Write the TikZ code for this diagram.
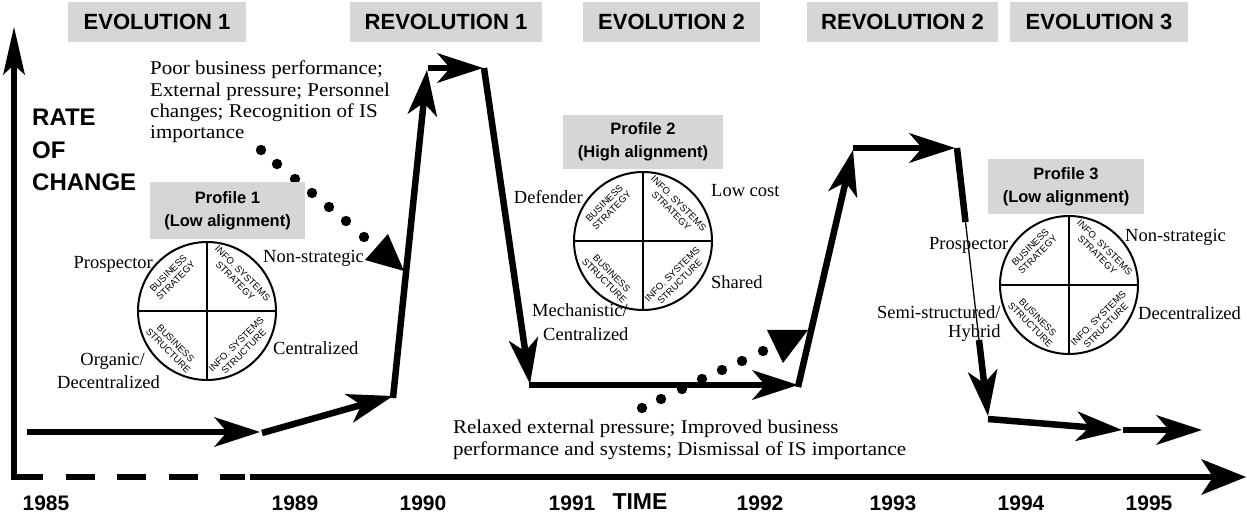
\documentclass[tikz,border=0pt]{standalone}
\usepackage{fontspec}
\setmainfont{Liberation Serif}
\setsansfont{Liberation Sans}
\newfontfamily\notefont[FakeStretch=1.075]{Liberation Serif}
\usetikzlibrary{arrows.meta}
\definecolor{boxgray}{RGB}{214,214,214}
\tikzset{
  hdr/.style={fill=boxgray, minimum height=40pt, inner sep=0pt, font=\sffamily\bfseries\fontsize{22}{24}\selectfont},
  prof/.style={fill=boxgray, inner sep=0pt, align=center, font=\sffamily\bfseries\fontsize{16.5}{23}\selectfont},
  lbl/.style={font=\fontsize{18.5}{21}\selectfont, inner sep=0pt},
  note/.style={font=\notefont\fontsize{19.5}{21.3}\selectfont, align=left, inner sep=0pt},
  yr/.style={font=\sffamily\bfseries\fontsize{21}{22}\selectfont, inner sep=0pt},
  quad/.style={font=\sffamily\fontsize{9.5}{10.5}\selectfont, align=center, inner sep=0pt},
  rate/.style={font=\sffamily\bfseries\fontsize{24}{26}\selectfont, inner sep=0pt, anchor=west},
  flow/.style={line width=6.5pt, -{Stealth[length=46pt,width=30pt,inset=13pt,line width=0pt]}},
  flowplain/.style={line width=6.5pt},
  axis/.style={line width=6pt},
  disc/.style={circle, draw, line width=2pt, minimum size=138pt, inner sep=0pt},
}
\newcommand{\profdisc}[3]{%
  \node[disc] (#1) at (#2,#3) {};
  \draw[line width=2pt] (#1.north) -- (#1.south);
  \draw[line width=2pt] (#1.west) -- (#1.east);
  \node[quad, rotate=45] (#1bs) at ([shift={(-35,-34)}]#1.center) {BUSINESS\\STRATEGY};
  \node[quad, rotate=-45] (#1is) at ([shift={(32,-34)}]#1.center) {INFO. SYSTEMS\\STRATEGY};
  \node[quad, rotate=-45] (#1bt) at ([shift={(-35,36)}]#1.center) {BUSINESS\\STRUCTURE};
  \node[quad, rotate=45] (#1it) at ([shift={(33,37)}]#1.center) {INFO. SYSTEMS\\STRUCTURE};
}
\begin{document}
\begin{tikzpicture}[x=1pt,y=-1pt]
\useasboundingbox (0,0) rectangle (1247,518);
\fill[white] (0,0) rectangle (1247,518);

% header boxes
\node[hdr, minimum width=178pt] (h1) at (157,22) {EVOLUTION 1};
\node[hdr, minimum width=192pt] (h2) at (446,22) {REVOLUTION 1};
\node[hdr, minimum width=177pt] (h3) at (671.5,22) {EVOLUTION 2};
\node[hdr, minimum width=191pt] (h4) at (902.5,22) {REVOLUTION 2};
\node[hdr, minimum width=178pt] (h5) at (1099,22) {EVOLUTION 3};

% axes
\coordinate (o) at (14,477);
\coordinate (ytop) at (14,27);
\coordinate (dashend) at (245,477);
\coordinate (solidstart) at (250,477);
\coordinate (xend) at (1246,477);
\draw[axis, -{Stealth[length=48pt,width=22pt,inset=10pt,line width=0pt]}] ([yshift=-3pt]o) -- (ytop);
\draw[axis, dash pattern=on 29pt off 22.5pt] (o) -- (dashend);
\draw[axis, -{Stealth[length=45pt,width=36pt,inset=12pt,line width=0pt]}] (solidstart) -- (xend);

\node[rate] (r1) at (32,117) {RATE};
\node[rate] (r2) at (32,150) {OF};
\node[rate] (r3) at (32,182) {CHANGE};

% years
\node[yr] (y85) at (46,503) {1985};
\node[yr] (y89) at (295,503) {1989};
\node[yr] (y90) at (423,503) {1990};
\node[yr] (y91) at (572,503) {1991};
\node[yr, font=\sffamily\bfseries\fontsize{23}{24}\selectfont] (time) at (640,502) {TIME};
\node[yr] (y92) at (760,503) {1992};
\node[yr] (y93) at (893,503) {1993};
\node[yr] (y94) at (1021,503) {1994};
\node[yr] (y95) at (1149,503) {1995};

% main path
\coordinate (a1) at (27,432);
\coordinate (a2) at (260,432);
\coordinate (b1) at (262,433);
\coordinate (b2) at (393,396);
\coordinate (c1) at (393,398);
\coordinate (c2) at (427,70);
\coordinate (d1) at (428,68);
\coordinate (d2) at (483,68);
\coordinate (e1) at (484,68);
\coordinate (e2) at (530,384);
\coordinate (f1) at (529,385);
\coordinate (f2) at (798,385);
\coordinate (g1) at (798,387);
\coordinate (g2) at (853,150);
\coordinate (k1) at (853,148);
\coordinate (k2) at (955,148);
\coordinate (m1) at (957,148);
\coordinate (m2) at (965.5,222);
\coordinate (m3) at (979,340);
\coordinate (m4) at (988,416);
\coordinate (n1) at (988,419);
\coordinate (n2) at (1122,430);
\coordinate (q1) at (1123,430);
\coordinate (q2) at (1202,430);

\draw[flow] (a1) -- (a2);
\draw[flow] (b1) -- (b2);
\draw[flow] (c1) -- (c2);
\draw[flow] (d1) -- (d2);
\draw[flow] (e1) -- (e2);
\draw[flow] (f1) -- (f2);
\draw[flow] (g1) -- (g2);
\draw[flow] (k1) -- (k2);
\draw[flowplain] (m1) -- (m2);
\draw[line width=1.3pt] (m2) -- (m3);
\draw[flow] (m3) -- (m4);
\draw[flow] (n1) -- (n2);
\draw[flow] (q1) -- (q2);

% trigger notes
\node[note, anchor=north west] (t1) at (150,61) {Poor business performance;\\External pressure; Personnel\\changes; Recognition of IS\\importance};
\foreach \x/\y in {261/150,277/164,295/179,312/193,329/207,346/221,364/237}
  \fill (\x,\y) circle[radius=5.2pt];
\fill (388,234) -- (404,271) -- (365,260) -- cycle;

\node[note, anchor=north west] (t2) at (453,420) {Relaxed external pressure; Improved business\\performance and systems; Dismissal of IS importance};
\foreach \x/\y in {642/408,661/399,682/389,702/379,722/370,742/361,763/351}
  \fill (\x,\y) circle[radius=5.2pt];
\fill (767,330) -- (808,330) -- (783,363) -- cycle;

% profile 1
\node[prof, minimum width=155pt, minimum height=57pt] (p1box) at (227.5,211) {Profile 1\\(Low alignment)};
\profdisc{pa}{207}{311}
\node[lbl, anchor=east] (pa1) at (153,264) {Prospector};
\node[lbl, anchor=west] (pa2) at (263,258) {Non-strategic};
\node[lbl, anchor=west] (pa3) at (273,348) {Centralized};
\node[lbl, anchor=east] (pa4) at (145,361) {Organic/};
\node[lbl, anchor=west] (pa5) at (57,382) {Decentralized};

% profile 2
\node[prof, minimum width=160pt, minimum height=54pt] (p2box) at (643,142) {Profile 2\\(High alignment)};
\profdisc{pb}{643}{241}
\node[lbl, anchor=east] (pb1) at (583,197) {Defender};
\node[lbl, anchor=west] (pb2) at (711,191) {Low cost};
\node[lbl, anchor=west] (pb3) at (711,282) {Shared};
\node[lbl, anchor=west] (pb4) at (532,310) {Mechanistic/};
\node[lbl, anchor=west] (pb5) at (543,334) {Centralized};

% profile 3
\node[prof, minimum width=156pt, minimum height=55pt] (p3box) at (1066,187) {Profile 3\\(Low alignment)};
\profdisc{pc}{1069}{285}
\node[lbl, anchor=west] (pc1) at (929,245) {Prospector};
\node[lbl, anchor=west] (pc2) at (1125,237) {Non-strategic};
\node[lbl, anchor=west] (pc3) at (877,312) {Semi-structured/};
\node[lbl, anchor=west] (pc4) at (948,333) {Hybrid};
\node[lbl, anchor=west] (pc5) at (1138,313) {Decentralized};
\end{tikzpicture}
\end{document}
